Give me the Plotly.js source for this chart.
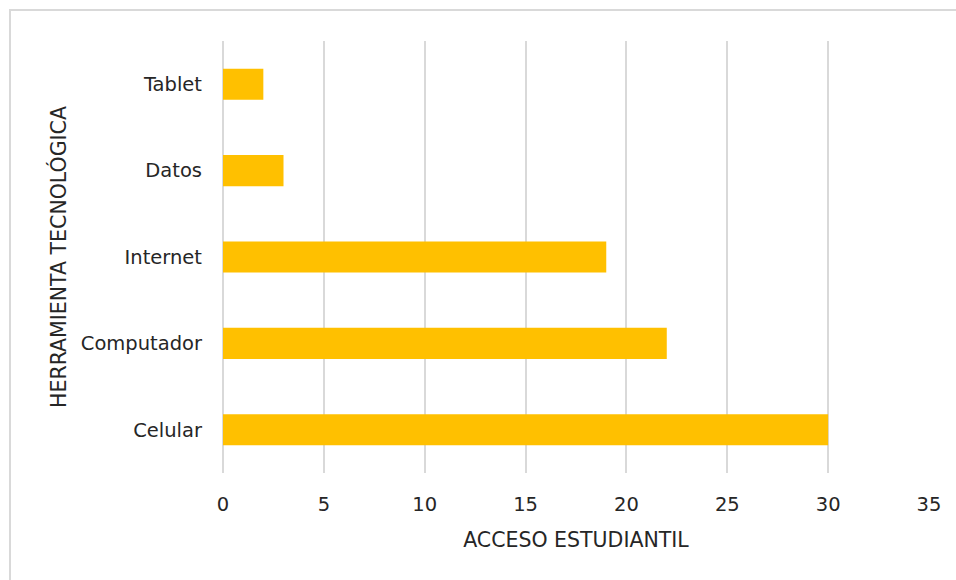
<!DOCTYPE html>
<html>
<head>
<meta charset="utf-8">
<script src="https://cdn.plot.ly/plotly-3.0.1.min.js"></script>
<style>
  html, body { margin: 0; padding: 0; background: #ffffff; }
  #frame { position: absolute; left: 9px; top: 9px; width: 1000px; height: 1000px; border: 2px solid #d9d9d9; box-sizing: border-box; pointer-events: none; }
  #chart { position: absolute; left: 0; top: 0; width: 956px; height: 580px; }
</style>
</head>
<body>
<div id="chart"></div>
<div id="frame"></div>
<script>
const categories = ["Celular", "Computador", "Internet", "Datos", "Tablet"];
const values = [30, 22, 19, 3, 2];
const xTicks = [0, 5, 10, 15, 20, 25, 30, 35];
const xTitle = "ACCESO ESTUDIANTIL";
const yTitle = "HERRAMIENTA TECNOLÓGICA";

const font = "'DejaVu Sans', 'Open Sans', sans-serif";
const fs = 19.5;
const tfs = 20.5;
const fc = "#262626";

Plotly.newPlot("chart", [{
  type: "bar",
  orientation: "h",
  x: values,
  y: categories,
  marker: { color: "#FFC000" },
  hoverinfo: "x+y"
}], {
  width: 956,
  height: 580,
  margin: { l: 223, r: 27, t: 41, b: 107 },
  paper_bgcolor: "rgba(0,0,0,0)",
  plot_bgcolor: "#ffffff",
  bargap: 0.64,
  showlegend: false,
  font: { family: font, size: fs, color: fc },
  xaxis: {
    range: [0, 35],
    tickvals: xTicks,
    ticktext: xTicks.map(String),
    showgrid: true,
    gridcolor: "#d9d9d9",
    gridwidth: 2,
    zeroline: true,
    zerolinecolor: "#d9d9d9",
    zerolinewidth: 2,
    showline: false,
    ticks: "",
    ticklabelstandoff: 17,
    tickfont: { family: font, size: fs, color: fc },
    title: { text: xTitle, font: { family: font, size: tfs, color: fc }, standoff: 18 }
  },
  yaxis: {
    type: "category",
    categoryorder: "array",
    categoryarray: categories,
    showgrid: false,
    zeroline: false,
    showline: false,
    ticks: "",
    ticklabelstandoff: 20,
    tickfont: { family: font, size: fs, color: fc },
    title: { text: yTitle, font: { family: font, size: tfs, color: fc }, standoff: 8 }
  }
}, { displayModeBar: false, staticPlot: true });
</script>
</body>
</html>
